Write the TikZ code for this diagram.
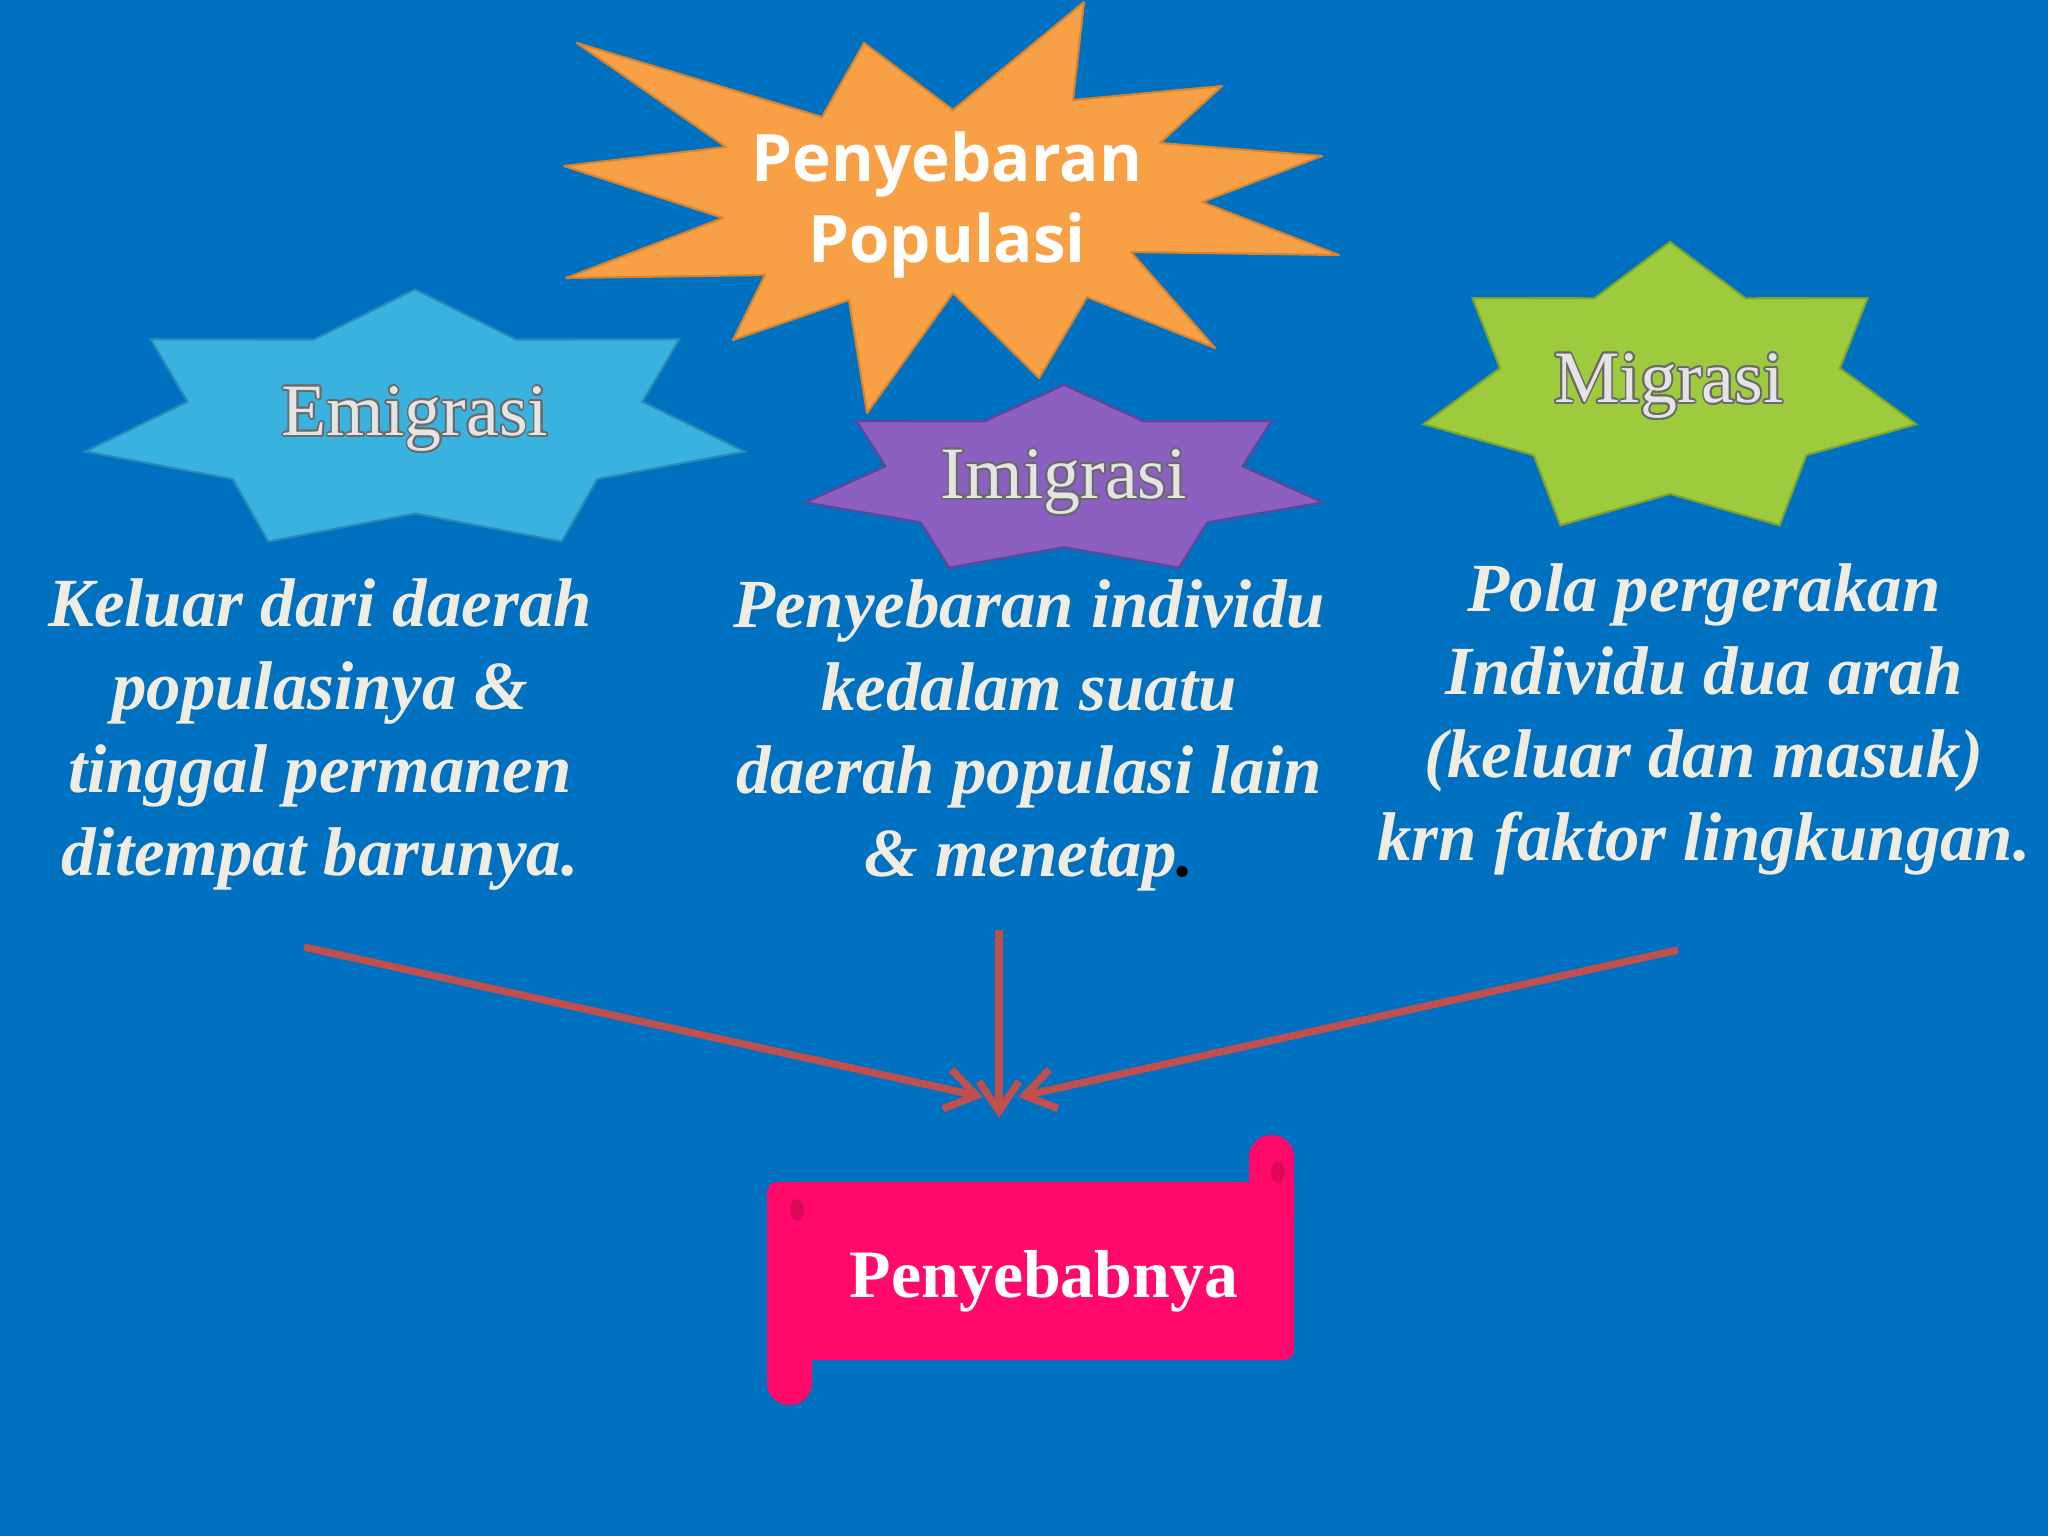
\documentclass[tikz,border=0pt]{standalone}
\usepackage{fontspec}
\setmainfont{Liberation Serif}
\newfontfamily\titlefont{Open Sans}
\usepackage[copies]{contour}
\contourlength{0.5pt}
\usetikzlibrary{arrows.meta,positioning}

\definecolor{slidebg}{HTML}{0070C0}
\definecolor{orangefill}{HTML}{F8A045}
\definecolor{orangeline}{HTML}{D9832C}
\definecolor{cyanfill}{HTML}{3AB2DF}
\definecolor{cyanline}{HTML}{2A8AB4}
\definecolor{purplefill}{HTML}{8B60C0}
\definecolor{purpleline}{HTML}{664396}
\definecolor{greenfill}{HTML}{9ECB3E}
\definecolor{greenline}{HTML}{7EA42C}
\definecolor{scrollpink}{HTML}{FF0A6A}
\definecolor{scrolldark}{HTML}{DD0858}
\definecolor{arrowred}{HTML}{C0504D}
\definecolor{paletext}{HTML}{F1ECE2}
\definecolor{silver}{HTML}{E4E4E4}
\definecolor{labeledge}{HTML}{6A6A6A}

% seven point star: centre x, centre y, x radius, y radius, style
\newcommand{\sevenstar}[5]{%
  \begin{scope}[shift={(#1,#2)}, x=#3, y=#4]
    \filldraw[#5] (90:1) \foreach \k in {1,...,13} {-- ({90+\k*360/14}:{ifthenelse(isodd(\k),0.69,1)})} -- cycle;
  \end{scope}}
\newcommand{\starname}[1]{\contour{labeledge}{#1}}

\begin{document}
\begin{tikzpicture}[x=0.01cm, y=-0.01cm]
  \tikzstyle{titletext} = [font=\titlefont\bfseries\fontsize{18.6}{23}\selectfont, text=white, align=center]
  \tikzstyle{starlabel} = [font=\fontsize{21}{25}\selectfont, text=silver]
  \tikzstyle{desc} = [font=\bfseries\itshape\fontsize{19.6}{23.6}\selectfont, text=paletext, align=center]
  \tikzstyle{causetext} = [font=\bfseries\fontsize{19.3}{23}\selectfont, text=white]
  \tikzstyle{arrowline} = [draw=arrowred, line width=2.1pt, -{Straight Barb[length=0.3cm, width=0.4cm]}]

  \useasboundingbox (0,0) rectangle (2048,1536);
  \fill[slidebg] (0,0) rectangle (2048,1536);

  % the burst behind the title
  \filldraw[fill=orangefill, draw=orangeline, line width=0.6pt, line join=round]
    (1084,2) -- (1073,100) -- (1222,86) -- (1160,143) -- (1322,156) -- (1202,202)
    -- (1339,255) -- (1131,252) -- (1215,348) -- (1087,297) -- (1039,378) -- (953,293)
    -- (867,413) -- (849,300) -- (733,340) -- (765,275) -- (566,278) -- (723,218)
    -- (564,166) -- (726,147) -- (577,43) -- (822,117) -- (864,43) -- (953,110) -- cycle;
  \node (title) [titletext] at (947,205) {Penyebaran\\Populasi};

  \sevenstar{415}{422}{3.38cm}{1.326cm}{fill=cyanfill, draw=cyanline, line width=0.6pt}
  \sevenstar{1064}{481}{2.65cm}{0.96cm}{fill=purplefill, draw=purpleline, line width=0.6pt}
  \sevenstar{1670}{391}{2.525cm}{1.49cm}{fill=greenfill, draw=greenline, line width=0.6pt}

  \node (emi) [starlabel] at (415,420) {\starname{Emigrasi}};
  \node (imi) [starlabel] at (1064,483) {\starname{Imigrasi}};
  \node (mig) [starlabel] at (1669,387) {\starname{Migrasi}};

  \node (emitext) [desc] at (320,735) {Keluar dari daerah\\populasinya \&\\tinggal permanen\\ditempat barunya.};
  \node (imitext) [desc] at (1029,735) {Penyebaran individu\\kedalam suatu\\daerah populasi lain\\\& menetap{\color{black}.}};
  \node (migtext) [desc] at (1704,719) {Pola pergerakan\\Individu dua arah\\(keluar dan masuk)\\krn faktor lingkungan.};

  % scroll banner
  \fill[scrollpink, rounded corners=0.1cm] (767,1182) rectangle (1294,1360);
  \fill[scrollpink, rounded corners=0.22cm] (1249,1135) rectangle (1294,1230);
  \fill[scrollpink, rounded corners=0.22cm] (767,1310) rectangle (812,1405);
  \fill[scrolldark] (797,1210) ellipse (0.07cm and 0.11cm);
  \fill[scrolldark] (1278,1172) ellipse (0.07cm and 0.11cm);
  \node (cause) [causetext] at (1044,1281) {Penyebabnya};

  \coordinate (emifoot) at (304,947);
  \coordinate (imifoot) at (999,930);
  \coordinate (migfoot) at (1678,950);
  \coordinate (meet) at (999,1118);

  \draw [arrowline] (emifoot) -- ([shift={(-16,-21)}]meet);
  \draw [arrowline] (imifoot) -- (meet);
  \draw [arrowline] (migfoot) -- ([shift={(19,-21)}]meet);
\end{tikzpicture}
\end{document}
